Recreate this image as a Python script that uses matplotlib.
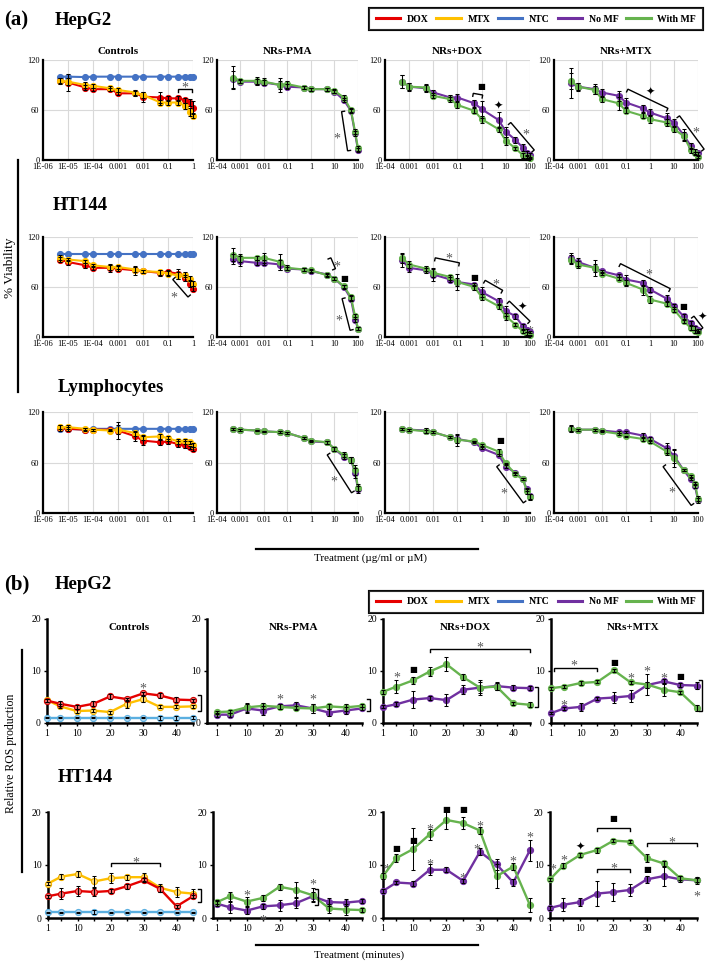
import numpy as np
import matplotlib
matplotlib.use("Agg")
import matplotlib.pyplot as plt
from matplotlib.lines import Line2D
from matplotlib.transforms import IdentityTransform, offset_copy
from matplotlib.ticker import FixedLocator, FixedFormatter, NullLocator

plt.rcParams['font.family'] = ['Liberation Serif', 'DejaVu Serif']

W, H = 707, 964
fig = plt.figure(figsize=(W / 100, H / 100), dpi=100)

# ---------------- data: viability ----------------
CTRL_CONC = [5e-6, 1e-5, 5e-5, 1e-4, 5e-4, 1e-3, 5e-3, 1e-2, 5e-2, 0.1, 0.25, 0.5, 0.75, 1]
NR_CONC = [5e-4, 1e-3, 5e-3, 1e-2, 5e-2, 0.1, 0.5, 1, 5, 10, 25, 50, 75, 100]
CTRL_TICKS = [1e-6, 1e-5, 1e-4, 1e-3, 1e-2, 0.1, 1]
CTRL_LABELS = ['1E-06', '1E-05', '1E-04', '0.001', '0.01', '0.1', '1']
NR_TICKS = [1e-4, 1e-3, 1e-2, 0.1, 1, 10, 100]
NR_LABELS = ['1E-04', '0.001', '0.01', '0.1', '1', '10', '100']

HEPG2_CTRL_DOX = [95, 93, 87, 85, 85, 80, 80, 76, 75, 74, 74, 72, 69, 63]
HEPG2_CTRL_DOX_ERR = [4, 10, 3, 2, 2, 2, 3, 6, 7, 3, 3, 3, 4, 8]
HEPG2_CTRL_MTX = [95, 94, 90, 89, 86, 84, 81, 78, 69, 69, 69, 65, 58, 53]
HEPG2_CTRL_MTX_ERR = [3, 4, 4, 2, 3, 2, 3, 4, 3, 3, 3, 4, 5, 3]
HEPG2_CTRL_NTC = [100, 100, 99.5, 100, 100, 100, 100, 100, 100, 100, 100, 100, 100, 100]
HEPG2_PMA_NOMF = [97, 94, 94, 93, 90, 88, 87, 85, 85, 82, 72, 59, 32, 12]
HEPG2_PMA_NOMF_ERR = [10, 2, 3, 3, 5, 3, 2, 2, 2, 2, 2, 2, 3, 2]
HEPG2_PMA_MF = [99, 95, 95, 94, 90, 91, 87, 85, 85, 83, 75, 60, 34, 14]
HEPG2_PMA_MF_ERR = [14, 2, 5, 4, 8, 4, 2, 2, 2, 2, 3, 2, 3, 3]
HEPG2_DOX_NOMF = [94, 88, 86, 81, 75, 75, 68, 61, 48, 34, 24, 15, 8, 6]
HEPG2_DOX_NOMF_ERR = [8, 5, 4, 3, 3, 4, 4, 10, 10, 6, 4, 4, 3, 2]
HEPG2_DOX_MF = [94, 88, 87, 77, 73, 66, 59, 49, 37, 23, 14, 6, 4, 2]
HEPG2_DOX_MF_ERR = [8, 4, 4, 3, 3, 4, 3, 4, 3, 5, 2, 3, 2, 1]
HEPG2_MTX_NOMF = [92, 88, 85, 81, 77, 69, 62, 57, 50, 45, 30, 17, 10, 8]
HEPG2_MTX_NOMF_ERR = [18, 5, 6, 4, 6, 5, 4, 4, 6, 4, 7, 4, 3, 2]
HEPG2_MTX_MF = [95, 88, 84, 73, 68, 59, 53, 49, 45, 37, 29, 12, 8, 4]
HEPG2_MTX_MF_ERR = [10, 4, 5, 3, 8, 3, 3, 5, 4, 3, 5, 3, 2, 1]

HT_CTRL_DOX = [93, 90, 86, 83, 83, 82, 80, 79, 77, 78, 76, 71, 64, 58]
HT_CTRL_DOX_ERR = [3, 3, 3, 2, 5, 3, 5, 2, 4, 3, 6, 4, 4, 3]
HT_CTRL_MTX = [95, 93, 91, 86, 84, 84, 81, 79, 78, 76, 74, 75, 70, 64]
HT_CTRL_MTX_ERR = [3, 2, 2, 2, 3, 2, 3, 2, 3, 3, 4, 3, 3, 3]
HT_CTRL_NTC = [100, 100, 100, 100, 100, 100, 100, 100, 100, 100, 100, 100, 100, 100]
HT_PMA_NOMF = [94, 91, 89, 89, 87, 82, 81, 79, 75, 70, 60, 46, 21, 10]
HT_PMA_NOMF_ERR = [6, 6, 3, 3, 6, 2, 2, 2, 2, 2, 2, 3, 3, 2]
HT_PMA_MF = [99, 95, 95, 95, 90, 83, 81, 80, 74, 70, 61, 48, 25, 10]
HT_PMA_MF_ERR = [8, 5, 2, 6, 10, 3, 2, 2, 2, 2, 2, 3, 3, 2]
HT_DOX_NOMF = [92, 83, 80, 75, 69, 66, 63, 54, 43, 31, 25, 13, 8, 6]
HT_DOX_NOMF_ERR = [8, 5, 3, 8, 3, 10, 2, 6, 4, 6, 3, 3, 2, 1]
HT_DOX_MF = [95, 87, 82, 77, 72, 66, 60, 48, 37, 25, 15, 7, 4, 2]
HT_DOX_MF_ERR = [6, 4, 3, 5, 3, 5, 3, 4, 3, 4, 2, 2, 2, 1]
HT_MTX_NOMF = [95, 90, 83, 79, 74, 69, 65, 57, 46, 37, 25, 17, 11, 8]
HT_MTX_NOMF_ERR = [6, 5, 10, 2, 2, 6, 4, 3, 4, 3, 3, 2, 2, 2]
HT_MTX_MF = [93, 87, 83, 76, 70, 65, 57, 45, 40, 33, 19, 11, 7, 6]
HT_MTX_MF_ERR = [5, 4, 5, 2, 2, 4, 6, 4, 3, 3, 2, 2, 2, 1]

LY_CTRL_DOX = [101, 100, 99, 99, 99, 98, 91, 86, 84, 85, 82, 81, 78, 76]
LY_CTRL_DOX_ERR = [3, 2, 2, 1, 1, 10, 5, 5, 3, 3, 4, 4, 2, 2]
LY_CTRL_MTX = [102, 102, 100, 99, 98, 99, 95, 90, 91, 89, 85, 85, 84, 81]
LY_CTRL_MTX_ERR = [2, 2, 1, 1, 1, 5, 3, 3, 3, 3, 3, 3, 2, 2]
LY_CTRL_NTC = [100, 100, 99, 100, 100, 100, 100, 100, 100, 100, 100, 100, 100, 100]
LY_PMA_NOMF = [100, 99, 98, 97, 96, 95, 89, 85, 84, 76, 67, 63, 48, 28]
LY_PMA_NOMF_ERR = [1, 1, 1, 1, 1, 1, 1, 1, 2, 2, 3, 3, 6, 4]
LY_PMA_MF = [100, 99, 98, 97, 96, 95, 89, 86, 84, 76, 69, 63, 51, 30]
LY_PMA_MF_ERR = [1, 1, 1, 1, 1, 1, 1, 1, 2, 2, 3, 3, 6, 4]
LY_DOX_NOMF = [100, 99, 98, 96, 90, 88, 84, 77, 69, 55, 48, 40, 28, 20]
LY_DOX_NOMF_ERR = [1, 1, 3, 1, 1, 5, 1, 1, 1, 2, 1, 1, 2, 3]
LY_DOX_MF = [100, 99, 97, 96, 90, 87, 85, 81, 73, 59, 46, 40, 26, 19]
LY_DOX_MF_ERR = [1, 1, 2, 1, 1, 7, 1, 1, 3, 1, 1, 1, 3, 3]
LY_MTX_NOMF = [100, 99, 99, 98, 96, 96, 92, 88, 77, 68, 51, 40, 32, 15]
LY_MTX_NOMF_ERR = [4, 1, 1, 1, 1, 1, 3, 2, 6, 8, 1, 1, 2, 3]
LY_MTX_MF = [100, 99, 99, 97, 94, 91, 88, 85, 73, 65, 51, 44, 35, 17]
LY_MTX_MF_ERR = [3, 1, 1, 1, 1, 1, 2, 2, 4, 10, 1, 1, 2, 3]

# ---------------- data: ROS ----------------
TIME = [1, 5, 10, 15, 20, 25, 30, 35, 40, 45]
TIME_TICKS = [1, 5, 10, 15, 20, 25, 30, 35, 40, 45]
TIME_LABELS = ['1', '', '10', '', '20', '', '30', '', '40', '']

H_CTRL_DOX = [4.3, 3.7, 3.1, 3.7, 5.1, 4.6, 5.7, 5.3, 4.5, 4.4]
H_CTRL_DOX_ERR = [0.3, 0.5, 0.4, 0.5, 0.4, 0.3, 0.3, 0.5, 0.5, 0.3]
H_CTRL_MTX = [4.4, 3.2, 2.3, 2.4, 2.1, 3.7, 4.6, 3.1, 3.1, 3.2]
H_CTRL_MTX_ERR = [0.3, 0.4, 0.3, 0.3, 0.3, 0.8, 0.5, 0.3, 0.3, 0.3]
H_CTRL_NTC = [1.0, 1.0, 1.0, 1.0, 1.0, 1.0, 1.0, 1.0, 1.0, 1.0]
H_CTRL_NTC_ERR = [0.1, 0.1, 0.1, 0.1, 0.1, 0.1, 0.1, 0.4, 0.4, 0.3]
H_PMA_NOMF = [1.6, 1.6, 2.8, 2.4, 3.2, 3.4, 2.8, 2.0, 2.4, 2.8]
H_PMA_NOMF_ERR = [0.4, 0.4, 0.9, 0.9, 0.5, 0.7, 0.9, 0.7, 0.7, 0.3]
H_PMA_MF = [2.1, 2.2, 3.0, 3.3, 3.1, 2.9, 2.8, 3.2, 3.0, 3.3]
H_PMA_MF_ERR = [0.3, 0.3, 0.8, 0.6, 0.5, 0.4, 0.8, 0.5, 0.6, 0.3]
H_DOX_NOMF = [3.1, 3.6, 4.5, 4.8, 4.4, 6.4, 6.8, 7.1, 6.8, 6.7]
H_DOX_NOMF_ERR = [0.3, 0.4, 1.7, 0.4, 1.1, 0.9, 1.5, 0.7, 0.5, 0.4]
H_DOX_MF = [6.0, 7.0, 8.2, 9.9, 11.3, 8.8, 6.8, 7.0, 3.8, 3.5]
H_DOX_MF_ERR = [0.4, 1.3, 0.7, 0.9, 1.3, 0.6, 1.0, 0.6, 0.3, 0.5]
H_MTX_NOMF = [1.9, 2.8, 3.1, 4.7, 4.9, 5.2, 7.3, 8.0, 7.3, 7.2]
H_MTX_NOMF_ERR = [0.2, 0.3, 0.8, 0.3, 1.1, 1.1, 0.6, 0.5, 0.3, 0.6]
H_MTX_MF = [6.7, 7.0, 7.7, 7.9, 10.1, 7.8, 7.4, 6.4, 5.9, 2.9]
H_MTX_MF_ERR = [0.3, 0.3, 0.3, 0.3, 0.3, 0.3, 2.0, 1.2, 0.3, 0.5]

T_CTRL_DOX = [4.1, 4.6, 5.1, 4.9, 5.1, 6.0, 7.1, 5.5, 2.2, 4.1]
T_CTRL_DOX_ERR = [0.3, 1.0, 0.9, 0.8, 0.4, 0.5, 0.4, 0.5, 0.3, 0.3]
T_CTRL_MTX = [6.5, 7.8, 8.3, 6.9, 7.5, 7.7, 7.7, 5.7, 4.9, 4.6]
T_CTRL_MTX_ERR = [0.3, 0.5, 0.5, 1.0, 0.9, 0.5, 0.7, 0.8, 1.0, 0.8]
T_CTRL_NTC = [1.1, 1.1, 1.1, 1.1, 1.1, 1.1, 1.1, 1.1, 1.1, 1.1]
T_CTRL_NTC_ERR = [0.1, 0.1, 0.1, 0.4, 0.1, 0.1, 0.1, 0.1, 0.1, 0.1]
T_PMA_NOMF = [2.7, 2.0, 1.4, 2.2, 2.4, 2.8, 4.1, 3.0, 2.9, 3.2]
T_PMA_NOMF_ERR = [0.5, 1.0, 0.7, 0.5, 1.0, 0.9, 0.9, 0.8, 0.7, 0.4]
T_PMA_MF = [3.0, 4.1, 3.1, 3.8, 5.9, 5.3, 4.3, 1.8, 1.6, 1.5]
T_PMA_MF_ERR = [0.4, 0.8, 0.8, 0.6, 0.6, 1.4, 1.3, 0.9, 1.0, 0.4]
T_DOX_NOMF = [5.1, 6.7, 6.5, 9.1, 9.1, 7.0, 12.5, 10.1, 6.7, 12.8]
T_DOX_NOMF_ERR = [0.3, 0.3, 0.4, 1.0, 0.5, 0.4, 0.7, 1.0, 0.7, 2.0]
T_DOX_MF = [7.9, 11.3, 13.0, 15.8, 18.5, 17.9, 16.5, 7.9, 9.7, 2.4]
T_DOX_MF_ERR = [0.5, 0.8, 4.0, 1.0, 1.8, 1.1, 0.6, 2.2, 0.7, 1.3]
T_MTX_NOMF = [1.9, 2.5, 3.0, 4.6, 4.9, 5.3, 7.3, 7.9, 7.3, 7.1]
T_MTX_NOMF_ERR = [0.3, 1.2, 0.7, 2.3, 1.7, 1.2, 0.7, 1.8, 0.6, 0.6]
T_MTX_MF = [7.3, 9.9, 11.9, 12.8, 14.6, 14.4, 11.3, 10.3, 7.5, 7.1]
T_MTX_MF_ERR = [0.3, 0.4, 0.3, 0.5, 0.3, 0.3, 0.8, 0.4, 0.4, 0.4]

LEGEND_LABELS = ['DOX', 'MTX', 'NTC', 'No MF', 'With MF']

# ---------------- styles ----------------
C_DOX = '#E60000'
C_MTX = '#FFC000'
C_NTC = '#4472C4'
C_NTC2 = '#5BAFE0'
C_NOMF = '#7030A0'
C_MF = '#66B34E'
C_STAR = '#595959'


def add_ax(x0, y0, x1, y1):
    a = fig.add_axes([x0 / W, 1 - y1 / H, (x1 - x0) / W, (y1 - y0) / H])
    a.patch.set_alpha(0)
    return a


def via_axes(x0, y0, x1, y1, ctrl):
    ax = add_ax(x0, y0, x1, y1)
    ax.set_xscale('log')
    if ctrl:
        ax.set_xlim(1e-6, 1)
        ticks, labels = CTRL_TICKS, CTRL_LABELS
    else:
        ax.set_xlim(1e-4, 100)
        ticks, labels = NR_TICKS, NR_LABELS
    ax.xaxis.set_major_locator(FixedLocator(ticks))
    ax.xaxis.set_major_formatter(FixedFormatter(labels))
    ax.xaxis.set_minor_locator(NullLocator())
    ax.set_ylim(0, 120)
    ax.set_yticks([0, 60, 120])
    ax.grid(True, color='#d9d9d9', lw=0.8)
    ax.set_axisbelow(True)
    for s in ('top', 'right'):
        ax.spines[s].set_visible(False)
    for s in ('left', 'bottom'):
        ax.spines[s].set_linewidth(1.6)
        ax.spines[s].set_zorder(6)
    ax.tick_params(length=0, labelsize=6, pad=2.5)
    return ax


def ros_axes(x0, y0, x1, y1, xmin):
    ax = add_ax(x0, y0, x1, y1)
    ax.set_xlim(xmin, 45)
    ax.set_ylim(0, 20)
    ax.set_xticks(TIME_TICKS)
    ax.set_xticklabels(TIME_LABELS)
    ax.set_yticks([0, 10, 20])
    for s in ('top', 'right'):
        ax.spines[s].set_visible(False)
    for s in ('left', 'bottom'):
        ax.spines[s].set_linewidth(1.8)
    ax.tick_params(direction='out', length=2.5, width=1.0, labelsize=7, pad=2)
    return ax


def series(ax, x, y, err, color, ms=4.3, mfc=None, mec=None, lw=1.5):
    ax.plot(x, y, '-o', color=color, lw=lw, ms=ms, mfc=mfc or color,
            mec=mec or color, mew=0.8, zorder=4, clip_on=False)
    if err is not None:
        ax.errorbar(x, y, yerr=err, fmt='none', ecolor='black', elinewidth=0.75,
                    capsize=1.6, capthick=0.75, zorder=5, clip_on=False)


def bracket(ax, p1, p2, side=-1, tip=3.0, lw=1.0):
    d1 = np.array(ax.transData.transform(p1))
    d2 = np.array(ax.transData.transform(p2))
    v = d2 - d1
    v = v / np.hypot(*v)
    if side < 0:
        n = np.array([v[1], -v[0]])
    else:
        n = np.array([-v[1], v[0]])
    pts = np.array([d1 + n * tip, d1, d2, d2 + n * tip])
    fig.add_artist(Line2D(pts[:, 0], pts[:, 1], transform=IdentityTransform(),
                          color='black', lw=lw, solid_joinstyle='miter'))


def star(ax, x, y, fs=10):
    tr = offset_copy(ax.transData, fig=fig, y=-0.62 * fs, units='points')
    ax.text(x, y, '*', transform=tr, ha='center', va='baseline', fontsize=fs,
            color=C_STAR, clip_on=False)


def square(ax, x, y, fs=6):
    tr = offset_copy(ax.transData, fig=fig, y=-0.33 * fs, units='points')
    ax.text(x, y, '\u25A0', transform=tr, ha='center', va='baseline', fontsize=fs,
            color='black', family=['DejaVu Sans'], clip_on=False)


def spark(ax, x, y, fs=8):
    tr = offset_copy(ax.transData, fig=fig, y=-0.36 * fs, units='points')
    ax.text(x, y, '\u2726', transform=tr, ha='center', va='baseline', fontsize=fs,
            color='black', family=['DejaVu Sans'], clip_on=False)


# ---------------- panel (a): viability ----------------
VCOLS = [(43, 193, True), (217, 358, False), (385, 530, False), (554, 698, False)]
VROWS = [(60, 160), (237, 337), (412, 513)]

via = [[via_axes(c[0], r[0], c[1], r[1], c[2]) for c in VCOLS] for r in VROWS]

ctrl_sets = [
    (HEPG2_CTRL_NTC, HEPG2_CTRL_DOX, HEPG2_CTRL_DOX_ERR, HEPG2_CTRL_MTX, HEPG2_CTRL_MTX_ERR),
    (HT_CTRL_NTC, HT_CTRL_DOX, HT_CTRL_DOX_ERR, HT_CTRL_MTX, HT_CTRL_MTX_ERR),
    (LY_CTRL_NTC, LY_CTRL_DOX, LY_CTRL_DOX_ERR, LY_CTRL_MTX, LY_CTRL_MTX_ERR),
]
for r, (ntc, dox, doxe, mtx, mtxe) in enumerate(ctrl_sets):
    ax = via[r][0]
    series(ax, CTRL_CONC, ntc, None, C_NTC)
    series(ax, CTRL_CONC, dox, doxe, C_DOX)
    series(ax, CTRL_CONC, mtx, mtxe, C_MTX)

nr_sets = [
    [(HEPG2_PMA_NOMF, HEPG2_PMA_NOMF_ERR, HEPG2_PMA_MF, HEPG2_PMA_MF_ERR),
     (HEPG2_DOX_NOMF, HEPG2_DOX_NOMF_ERR, HEPG2_DOX_MF, HEPG2_DOX_MF_ERR),
     (HEPG2_MTX_NOMF, HEPG2_MTX_NOMF_ERR, HEPG2_MTX_MF, HEPG2_MTX_MF_ERR)],
    [(HT_PMA_NOMF, HT_PMA_NOMF_ERR, HT_PMA_MF, HT_PMA_MF_ERR),
     (HT_DOX_NOMF, HT_DOX_NOMF_ERR, HT_DOX_MF, HT_DOX_MF_ERR),
     (HT_MTX_NOMF, HT_MTX_NOMF_ERR, HT_MTX_MF, HT_MTX_MF_ERR)],
    [(LY_PMA_NOMF, LY_PMA_NOMF_ERR, LY_PMA_MF, LY_PMA_MF_ERR),
     (LY_DOX_NOMF, LY_DOX_NOMF_ERR, LY_DOX_MF, LY_DOX_MF_ERR),
     (LY_MTX_NOMF, LY_MTX_NOMF_ERR, LY_MTX_MF, LY_MTX_MF_ERR)],
]
for r in range(3):
    for c in range(3):
        nomf, nomfe, mf, mfe = nr_sets[r][c]
        ax = via[r][c + 1]
        series(ax, NR_CONC, nomf, nomfe, C_NOMF)
        series(ax, NR_CONC, mf, mfe, C_MF)

for ax, t in zip(via[0], ['Controls', 'NRs-PMA', 'NRs+DOX', 'NRs+MTX']):
    ax.set_title(t, fontsize=8, fontweight='bold', pad=4)

# annotations row HepG2
a = via[0][0]
bracket(a, (0.25, 85), (0.9, 85), -1)
star(a, 0.45, 92)
a = via[0][1]
bracket(a, (20, 58), (36, 11), +1)
star(a, 13, 31)
a = via[0][2]
bracket(a, (0.45, 80), (1.1, 78), -1)
square(a, 1.0, 88)
spark(a, 5, 66)
bracket(a, (16, 45), (150, 12), -1)
star(a, 68, 36)
a = via[0][3]
spark(a, 1.0, 83)
bracket(a, (0.12, 85), (5.6, 62), -1)
bracket(a, (17, 53), (180, 13), -1)
star(a, 85, 39)
# HT144
a = via[1][0]
bracket(a, (0.155, 69), (0.63, 48), +1)
star(a, 0.17, 53)
a = via[1][1]
bracket(a, (7, 95), (11, 82), -1)
star(a, 13, 90)
square(a, 26, 70)
bracket(a, (21, 46), (46, 8), +1)
star(a, 16, 25)
a = via[1][2]
bracket(a, (0.012, 95), (0.12, 89), -1)
star(a, 0.042, 100)
square(a, 0.5, 72)
bracket(a, (1.4, 68), (7.4, 56), -1)
star(a, 3.9, 68)
bracket(a, (14, 43), (100, 19), -1)
spark(a, 48, 37)
star(a, 100, 12)
a = via[1][3]
bracket(a, (0.059, 88), (7, 58), -1)
star(a, 0.9, 81)
square(a, 25, 37)
bracket(a, (68, 25), (160, 11), -1)
spark(a, 150, 25)
# Lymphocytes
a = via[2][1]
bracket(a, (4.9, 69), (53, 24), +1)
star(a, 9.3, 43)
a = via[2][2]
square(a, 5.7, 86)
bracket(a, (4.2, 55), (53, 12), +1)
star(a, 7.9, 28)
a = via[2][3]
bracket(a, (3.5, 55), (52, 9), +1)
star(a, 7.8, 30)

# ---------------- panel (b): ROS ----------------
R1 = [(47, 193, 1), (207, 362, -2), (383, 530, 1), (551, 697, 1)]
R2 = [(48, 193, 1), (213, 362, -0.2), (383, 530, 1), (550, 697, 1)]
ros1 = [ros_axes(c[0], 619, c[1], 723, c[2]) for c in R1]
ros2 = [ros_axes(c[0], 812, c[1], 918, c[2]) for c in R2]

ros_ctrl = [
    (ros1[0], H_CTRL_NTC, H_CTRL_NTC_ERR, H_CTRL_DOX, H_CTRL_DOX_ERR, H_CTRL_MTX, H_CTRL_MTX_ERR),
    (ros2[0], T_CTRL_NTC, T_CTRL_NTC_ERR, T_CTRL_DOX, T_CTRL_DOX_ERR, T_CTRL_MTX, T_CTRL_MTX_ERR),
]
for ax, ntc, ntce, dox, doxe, mtx, mtxe in ros_ctrl:
    series(ax, TIME, ntc, ntce, C_NTC2, ms=4.4, mfc='#A9D4F0', mec=C_NTC2, lw=1.7)
    series(ax, TIME, mtx, mtxe, C_MTX, ms=4.4, mfc='#FFDE7A', mec='#F0B000', lw=1.7)
    series(ax, TIME, dox, doxe, C_DOX, ms=4.4, mfc='#F07070', mec='#D00000', lw=1.7)

ros_nr = [
    (ros1[1], H_PMA_NOMF, H_PMA_NOMF_ERR, H_PMA_MF, H_PMA_MF_ERR),
    (ros1[2], H_DOX_NOMF, H_DOX_NOMF_ERR, H_DOX_MF, H_DOX_MF_ERR),
    (ros1[3], H_MTX_NOMF, H_MTX_NOMF_ERR, H_MTX_MF, H_MTX_MF_ERR),
    (ros2[1], T_PMA_NOMF, T_PMA_NOMF_ERR, T_PMA_MF, T_PMA_MF_ERR),
    (ros2[2], T_DOX_NOMF, T_DOX_NOMF_ERR, T_DOX_MF, T_DOX_MF_ERR),
    (ros2[3], T_MTX_NOMF, T_MTX_NOMF_ERR, T_MTX_MF, T_MTX_MF_ERR),
]
for ax, nomf, nomfe, mf, mfe in ros_nr:
    series(ax, TIME, nomf, nomfe, C_NOMF, ms=4.4, lw=1.7)
    series(ax, TIME, mf, mfe, C_MF, ms=4.4, lw=1.7)

for ax, t in zip(ros1, ['Controls', 'NRs-PMA', 'NRs+DOX', 'NRs+MTX']):
    ax.text(0.56, 0.915, t, transform=ax.transAxes, ha='center', va='center',
            fontsize=8, fontweight='bold')

# ROS annotations row 1 (HepG2)
a = ros1[0]
star(a, 30, 7.5)
bracket(a, (47.5, 5.3), (47.5, 2.3), -1)
a = ros1[1]
star(a, 20, 5.4)
star(a, 30, 5.4)
bracket(a, (47.5, 4.7), (47.5, 2.3), -1)
a = ros1[2]
star(a, 5, 9.6)
square(a, 10, 10.3)
bracket(a, (15, 14.3), (45, 14.3), -1)
star(a, 30, 15.4)
bracket(a, (47.3, 7.0), (47.3, 3.0), -1)
a = ros1[3]
bracket(a, (1.8, 10.6), (15, 10.6), -1)
star(a, 8, 11.9)
square(a, 20, 11.7)
star(a, 5, 4.3)
star(a, 25, 9.5)
star(a, 30, 10.7)
star(a, 35, 9.5)
square(a, 40, 8.9)
bracket(a, (46.5, 8.2), (46.5, 2.4), -1)
# ROS annotations row 2 (HT144)
a = ros2[0]
bracket(a, (20, 10.4), (35, 10.4), -1)
star(a, 27.5, 11.4)
bracket(a, (47.3, 5.5), (47.3, 3.0), -1)
a = ros2[1]
star(a, 10, 5.1)
star(a, 15, 0.4)
star(a, 30, 7.1)
bracket(a, (31.8, 5.4), (31.8, 2.5), -1)
a = ros2[2]
star(a, 2, 10.0)
square(a, 5, 13.2)
square(a, 10, 14.7)
star(a, 15, 17.6)
square(a, 20, 20.5)
square(a, 25, 20.5)
star(a, 30, 18.2)
star(a, 15, 11.0)
star(a, 25, 8.4)
star(a, 29, 13.7)
star(a, 40, 11.5)
star(a, 45, 16.0)
a = ros2[3]
star(a, 1.8, 10.0)
star(a, 5, 11.7)
spark(a, 10, 13.7)
bracket(a, (15, 17.0), (25, 17.0), -1)
square(a, 20, 18.9)
bracket(a, (15, 9.2), (25, 9.2), -1)
star(a, 20, 10.2)
square(a, 30, 9.2)
bracket(a, (30, 14.1), (45, 14.1), -1)
star(a, 37.5, 15.2)
star(a, 45, 4.9)

# ---------------- figure-level text, lines and legends ----------------
BIG = dict(fontsize=13.5, fontweight='bold', va='baseline', ha='left')
fig.text(4 / W, 1 - 25 / H, '(a)', fontsize=15, fontweight='bold', va='baseline')
fig.text(55 / W, 1 - 25 / H, 'HepG2', **BIG)
fig.text(53 / W, 1 - 210 / H, 'HT144', **BIG)
fig.text(58 / W, 1 - 392 / H, 'Lymphocytes', **BIG)
fig.text(4 / W, 1 - 589 / H, '(b)', fontsize=15, fontweight='bold', va='baseline')
fig.text(55 / W, 1 - 589 / H, 'HepG2', **BIG)
fig.text(58 / W, 1 - 782 / H, 'HT144', **BIG)

fig.text(10 / W, 1 - 268 / H, '% Viability', rotation=90, ha='center', va='center', fontsize=9.5)
fig.text(11 / W, 1 - 753 / H, 'Relative ROS production', rotation=90, ha='center', va='center', fontsize=8.5)
fig.add_artist(Line2D([18 / W, 18 / W], [1 - 160 / H, 1 - 392 / H], color='black', lw=1.6))
fig.add_artist(Line2D([22 / W, 22 / W], [1 - 650 / H, 1 - 872 / H], color='black', lw=1.6))

fig.add_artist(Line2D([256 / W, 478 / W], [1 - 549 / H, 1 - 549 / H], color='black', lw=1.6))
fig.text(371 / W, 1 - 553 / H, 'Treatment (\u00b5g/ml or \u00b5M)', ha='center', va='top', fontsize=8)
fig.add_artist(Line2D([256 / W, 478 / W], [1 - 945 / H, 1 - 945 / H], color='black', lw=1.6))
fig.text(359 / W, 1 - 950 / H, 'Treatment (minutes)', ha='center', va='top', fontsize=8)

handles = [Line2D([], [], color=c, lw=2.2) for c in (C_DOX, C_MTX, C_NTC, C_NOMF, C_MF)]
for cy in (19, 602):
    leg = fig.legend(handles, LEGEND_LABELS, loc='center', bbox_to_anchor=(536 / W, 1 - cy / H),
                     ncol=5, frameon=True, fancybox=False, edgecolor='black',
                     prop={'family': 'Liberation Serif', 'weight': 'bold', 'size': 7},
                     handlelength=2.5, handletextpad=0.7, columnspacing=0.8,
                     borderpad=0.7, borderaxespad=0)
    leg.get_frame().set_linewidth(1.5)
    fig.add_artist(leg)

fig.savefig('out.png', dpi=100)
